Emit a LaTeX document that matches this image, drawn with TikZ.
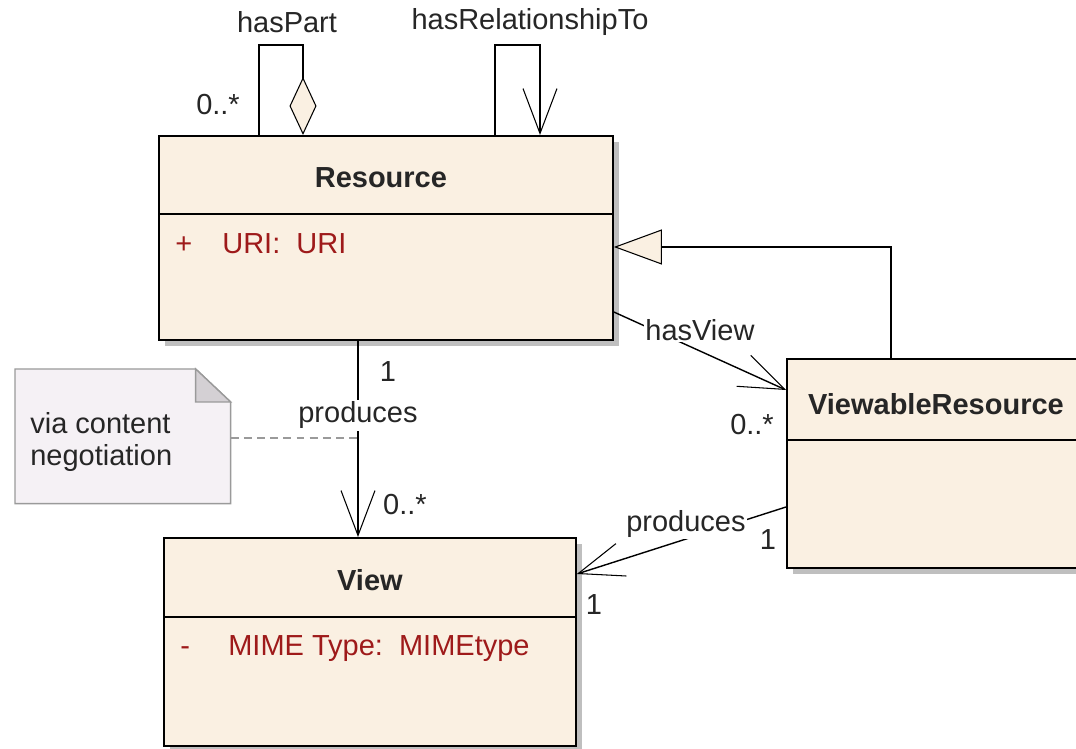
\documentclass[tikz,border=0pt]{standalone}
\usepackage{fontspec}
\setmainfont{Liberation Sans}
\usetikzlibrary{arrows.meta,shadows,positioning}
\definecolor{classfill}{HTML}{FAF0E2}
\definecolor{attrred}{HTML}{9E1A1A}
\definecolor{notefill}{HTML}{F5F1F5}
\definecolor{notefold}{HTML}{D4D0D4}
\definecolor{notegray}{HTML}{9A9A9A}
\begin{document}
\begin{tikzpicture}[x=0.02cm,y=-0.02cm,
      every node/.style={font=\fontsize{16.5}{18}\selectfont,text=black!85},
      class node/.style={rectangle,draw,line width=1.1pt,fill=classfill,anchor=north west,
        drop shadow={shadow xshift=0.12cm,shadow yshift=-0.12cm,fill=black!25,opacity=1}},
      class name/.style={font=\fontsize{16.5}{18}\selectfont\bfseries},
      attr/.style={text=attrred,anchor=base west,inner sep=0pt},
      lbl/.style={fill=white,inner sep=1pt},
      mult/.style={fill=white,inner sep=1pt},
      assoc/.style={line width=0.8pt,-{Straight Barb[length=9mm,width=6.8mm,line width=0.6pt]}},
      aggr/.style={line width=0.8pt,-{Diamond[length=11.6mm,width=5.4mm,fill=classfill,line width=0.6pt]}},
      general/.style={line width=0.8pt,-{Triangle[length=9.6mm,width=7mm,fill=classfill,line width=0.6pt]}}]

      \clip (0,0) rectangle (1076,749);

      % classes
      \node[class node,minimum width=9.08cm,minimum height=4.08cm] (res) at (158,135) {};
      \node[class node,minimum width=8.24cm,minimum height=4.16cm] (vw) at (163,537) {};
      \node[class node,minimum width=5.96cm,minimum height=4.18cm] (vr) at (786,358) {};

      \draw[line width=1.1pt] (res.west |- 0,214) -- (res.east |- 0,214);
      \draw[line width=1.1pt] (vw.west |- 0,617) -- (vw.east |- 0,617);
      \draw[line width=1.1pt] (vr.west |- 0,440) -- (vr.east |- 0,440);

      \node[class name] at ([xshift=-0.1cm,yshift=-0.86cm]res.north) {Resource};
      \node[class name] at ([yshift=-0.86cm]vw.north) {View};
      \node[class name] at ([yshift=-0.92cm]vr.north) {ViewableResource};

      \node[attr] at ([xshift=0.34cm,yshift=-2.38cm]res.north west) {+};
      \node[attr] at ([xshift=1.28cm,yshift=-2.38cm]res.north west) {URI:\ \ URI};
      \node[attr] at ([xshift=0.34cm,yshift=-2.38cm]vw.north west) {-};
      \node[attr] at ([xshift=1.3cm,yshift=-2.38cm]vw.north west) {MIME Type:\ \ MIMEtype};

      % note
      \node[minimum width=4.3cm,minimum height=2.68cm,anchor=north west,inner sep=0pt] (note) at (15,369) {};
      \filldraw[draw=notegray,fill=notefill,line width=0.8pt] (note.north west) -- ([xshift=-0.7cm]note.north east)
        -- ([yshift=-0.66cm]note.north east) -- (note.south east) -- (note.south west) -- cycle;
      \filldraw[draw=notegray,fill=notefold,line width=0.8pt] ([xshift=-0.7cm]note.north east)
        -- ([xshift=-0.7cm,yshift=-0.66cm]note.north east) -- ([yshift=-0.66cm]note.north east) -- cycle;
      \node[anchor=west,align=left,inner sep=0pt] (notetext) at (30,442) {via content\\negotiation};

      % associations
      \draw[aggr] (259,0 |- res.north) -- node[mult,pos=0,xshift=-0.82cm,yshift=0.6cm] {0..*} ++(0,-90)
        -| node[lbl,pos=0.25,xshift=0.12cm,yshift=0.46cm] {hasPart} (303,0 |- res.north);
      \draw[assoc] (495,0 |- res.north) -- ++(0,-90)
        -| node[lbl,pos=0.25,xshift=0.25cm,yshift=0.46cm] {hasRelationshipTo} (540,0 |- res.north);
      \draw[general] (891,0 |- vr.north) |- (res.east |- 0,247);
      \draw[assoc] (res.east |- 0,312) -- node[lbl,yshift=0.42cm] {hasView}
        node[mult,pos=1,xshift=-0.68cm,yshift=-0.7cm] {0..*} (vr.west |- 0,390);
      \draw[assoc] (358,0 |- res.south) -- node[lbl,pos=0.38] {produces}
        coordinate[pos=0.495] (prodpt)
        node[mult,pos=0,xshift=0.6cm,yshift=-0.62cm] {1}
        node[mult,pos=1,xshift=0.94cm,yshift=0.64cm] {0..*} (358,0 |- vw.north);
      \draw[assoc] (vr.west |- 0,507) -- node[lbl,xshift=0.09cm,yshift=0.33cm] {produces}
        node[mult,pos=0,xshift=-0.36cm,yshift=-0.66cm] {1}
        node[mult,pos=1,xshift=0.34cm,yshift=-0.62cm] {1} (vw.east |- 0,574);
      \draw[dashed,dash pattern=on 4.5pt off 3pt,line width=0.8pt,notegray] (note.east |- prodpt) -- (prodpt);
    \end{tikzpicture}
\end{document}
